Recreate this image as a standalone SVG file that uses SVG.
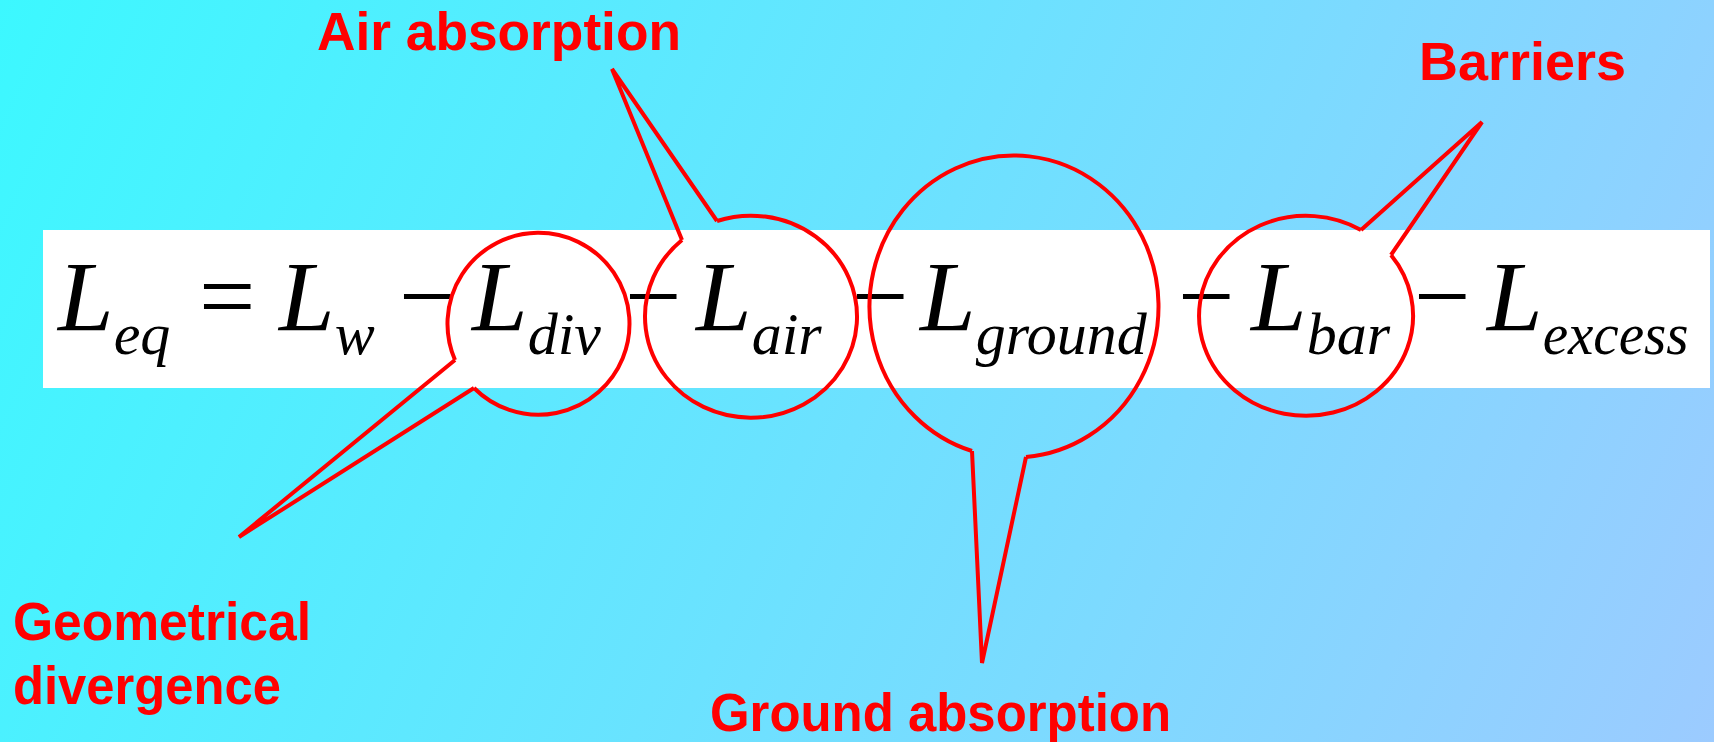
<svg xmlns="http://www.w3.org/2000/svg" width="1714" height="742" viewBox="0 0 1714 742">
<style>
.eq{font-family:"Liberation Serif","Times New Roman",serif;font-style:italic;font-size:100px;fill:#000}
.op{font-family:"Liberation Serif","Times New Roman",serif;font-style:normal;font-size:100px;fill:#000}
.sub{font-size:60px}
.bub{fill:none;stroke:#FF0000;stroke-width:4;stroke-linejoin:miter}
.lbl{font-family:"Liberation Sans",Arial,sans-serif;font-weight:bold;font-size:54px;fill:#FF0000}
</style>
<defs>
<linearGradient id="bg" gradientUnits="userSpaceOnUse" x1="0" y1="0" x2="1714" y2="742">
<stop offset="0" stop-color="#3CF8FF"/>
<stop offset="1" stop-color="#9CCBFF"/>
</linearGradient>
</defs>
<rect x="0" y="0" width="1714" height="742" fill="url(#bg)"/>
<g id="equation">
<rect x="43" y="230" width="1667" height="158" fill="#FFFFFF"/>
<text class="eq" x="58" y="330">L<tspan class="sub" dy="24">eq</tspan></text>
<text class="op" x="199" y="330">=</text>
<text class="eq" x="279" y="330">L<tspan class="sub" dy="24">w</tspan></text>
<text class="op" x="399" y="330">−</text>
<text class="eq" x="472" y="330">L<tspan class="sub" dy="24">div</tspan></text>
<text class="op" x="625" y="330">−</text>
<text class="eq" x="696" y="330">L<tspan class="sub" dy="24">air</tspan></text>
<text class="op" x="852" y="330">−</text>
<text class="eq" x="920" y="330">L<tspan class="sub" dy="24">ground</tspan></text>
<text class="op" x="1178" y="330">−</text>
<text class="eq" x="1251" y="330">L<tspan class="sub" dy="24">bar</tspan></text>
<text class="op" x="1414" y="330">−</text>
<text class="eq" x="1487" y="330">L<tspan class="sub" dy="24" textLength="146" lengthAdjust="spacingAndGlyphs">excess</tspan></text>
</g>
<g id="node-div">
<path class="bub" d="M474 388 A91 91 0 1 0 455 360"/>
<text class="lbl" x="13" y="640" textLength="298" lengthAdjust="spacingAndGlyphs">Geometrical</text>
<text class="lbl" x="13" y="704" textLength="268" lengthAdjust="spacingAndGlyphs">divergence</text>
</g>
<g id="node-air">
<path class="bub" d="M717 221 A106 101 0 1 1 682 240"/>
<text class="lbl" x="317" y="50" textLength="364" lengthAdjust="spacingAndGlyphs">Air absorption</text>
</g>
<g id="node-ground">
<path class="bub" d="M1026 457 A144.5 151 0 1 0 972 451"/>
<text class="lbl" x="710" y="731" textLength="461" lengthAdjust="spacingAndGlyphs">Ground absorption</text>
</g>
<g id="node-bar">
<path class="bub" d="M1391 255 A107 100 0 1 1 1361 230"/>
<text class="lbl" x="1419" y="80" textLength="207" lengthAdjust="spacingAndGlyphs">Barriers</text>
</g>
<g id="connectors">
<polyline class="bub" points="455,360 239,537 474,388"/>
<polyline class="bub" points="682,240 612,69 717,221"/>
<polyline class="bub" points="972,451 982,663 1026,457"/>
<polyline class="bub" points="1361,230 1482,122 1391,255"/>
</g>
</svg>
